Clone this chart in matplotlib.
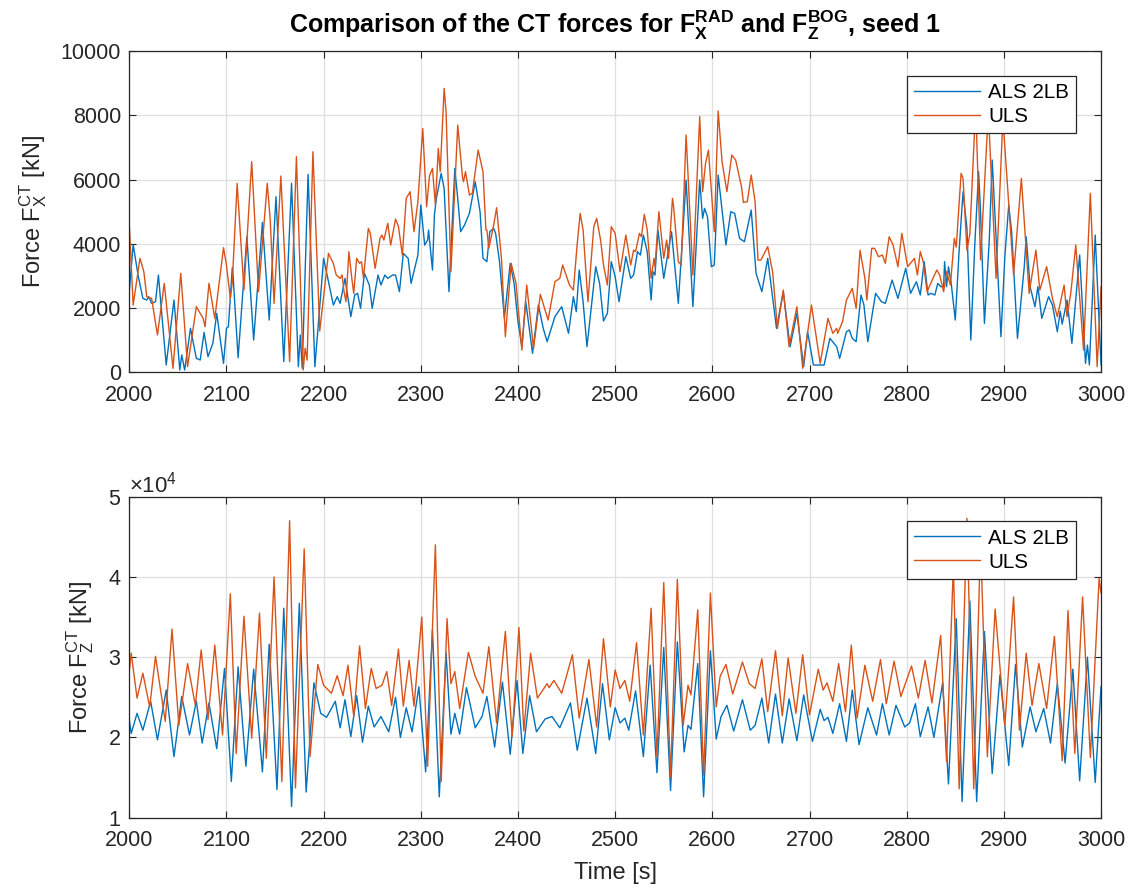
import numpy as np
import matplotlib
matplotlib.use("Agg")
import matplotlib.pyplot as plt
from matplotlib.ticker import ScalarFormatter

plt.rcParams["font.family"] = ["Liberation Sans", "DejaVu Sans"]
plt.rcParams["mathtext.fontset"] = "custom"
plt.rcParams["mathtext.rm"] = "Liberation Sans"
plt.rcParams["mathtext.it"] = "Liberation Sans"
plt.rcParams["mathtext.bf"] = "Liberation Sans:bold"

# ---- F_X^RAD, ALS 2LB [kN] ----
tx_als = [2000, 2004, 2009, 2014, 2018, 2020, 2023, 2027, 2030, 2038, 2046, 2052, 2054, 2057,
          2063, 2069, 2073, 2077, 2081, 2086, 2090, 2097, 2100, 2102, 2106, 2107, 2112, 2121,
          2128, 2137, 2144, 2151, 2159, 2167, 2174, 2176, 2178, 2184, 2191, 2200, 2210, 2214,
          2217, 2222, 2228, 2232, 2235, 2238, 2242, 2247, 2250, 2256, 2259, 2263, 2266, 2271,
          2274, 2278, 2282, 2287, 2290, 2297, 2300, 2304, 2307, 2308, 2312, 2314, 2316, 2321,
          2324, 2329, 2335, 2338, 2341, 2345, 2350, 2356, 2361, 2364, 2368, 2371, 2375, 2377,
          2381, 2386, 2392, 2396, 2400, 2404, 2408, 2415, 2421, 2426, 2430, 2438, 2445, 2452,
          2457, 2460, 2463, 2467, 2471, 2476, 2480, 2484, 2488, 2492, 2496, 2500, 2504, 2511,
          2516, 2519, 2523, 2526, 2529, 2533, 2537, 2539, 2541, 2544, 2550, 2558, 2565, 2573,
          2580, 2587, 2590, 2592, 2595, 2599, 2602, 2606, 2614, 2619, 2623, 2628, 2633, 2640,
          2645, 2651, 2657, 2666, 2673, 2680, 2687, 2694, 2698, 2704, 2715, 2721, 2728, 2731,
          2738, 2741, 2744, 2748, 2753, 2756, 2760, 2768, 2774, 2778, 2785, 2791, 2799, 2804,
          2810, 2814, 2818, 2822, 2825, 2829, 2832, 2835, 2838, 2839, 2841, 2843, 2846, 2850,
          2854, 2858, 2862, 2866, 2870, 2874, 2876, 2880, 2885, 2888, 2891, 2897, 2901, 2905,
          2908, 2914, 2921, 2923, 2927, 2932, 2935, 2939, 2946, 2950, 2955, 2958, 2960, 2965,
          2970, 2978, 2984, 2986, 2988, 2994, 3000]
fx_als = [2510, 3982, 3028, 2302, 2250, 2354, 2147, 2198, 3028, 228, 2250, 73, 540, 73,
          1369, 436, 384, 1244, 487, 902, 1835, 280, 1369, 1420, 3256, 2924, 456, 4220,
          1006, 4666, 1628, 5465, 332, 5880, 176, 1161, 124, 6160, 176, 3546, 2095, 2354,
          2147, 2924, 1732, 2406, 2458, 1991, 3080, 2717, 1991, 3028, 2717, 3028, 2924, 3028,
          3028, 2510, 3702, 3547, 2769, 3650, 5206, 3961, 4117, 4428, 3184, 4895, 5413, 6191,
          5724, 2510, 6346, 5413, 4376, 4583, 4947, 5932, 4998, 3547, 3443, 4376, 4480, 4324,
          3443, 1680, 3391, 2769, 1576, 798, 2198, 591, 2095, 1369, 954, 1732, 2043, 1213,
          2354, 1887, 3184, 2198, 798, 2198, 3287, 2769, 1597, 1835, 3443, 2976, 2198, 3599,
          2924, 3028, 3754, 3650, 4272, 3754, 2250, 3132, 3028, 4428, 2924, 4376, 2147, 5983,
          2043, 5983, 4791, 5102, 4843, 3287, 3339, 6139, 3961, 4998, 4947, 4168, 4065, 5050,
          3080, 2510, 3547, 1369, 2510, 798, 1835, 176, 1265, 228, 228, 1058, 798, 436,
          1265, 1317, 1058, 954, 2406, 2095, 954, 2458, 2198, 2147, 2872, 2302, 3236, 2458,
          2820, 2406, 3443, 2406, 2458, 2406, 2769, 2665, 2665, 3443, 2665, 3287, 2717, 1628,
          3806, 5620, 4480, 1006, 3910, 6243, 5000, 1524, 4117, 6606, 4800, 1110, 3598, 5206,
          4376, 1058, 3287, 4220, 2665, 2043, 2665, 1680, 2354, 2095, 1265, 1900, 1500, 2250,
          902, 3650, 280, 850, 228, 4272, 228]

# ---- F_X^RAD, ULS [kN] ----
tx_uls = [2000, 2004, 2011, 2015, 2018, 2023, 2029, 2036, 2045, 2053, 2060, 2069, 2076, 2078,
          2082, 2088, 2097, 2100, 2104, 2106, 2111, 2118, 2126, 2133, 2142, 2145, 2149, 2156,
          2165, 2172, 2179, 2181, 2183, 2189, 2196, 2205, 2210, 2213, 2217, 2219, 2221, 2223,
          2226, 2229, 2231, 2234, 2237, 2239, 2241, 2246, 2248, 2253, 2258, 2260, 2262, 2266,
          2269, 2274, 2277, 2281, 2285, 2289, 2293, 2297, 2302, 2306, 2309, 2312, 2315, 2318,
          2320, 2324, 2326, 2331, 2338, 2343, 2344, 2346, 2350, 2353, 2359, 2364, 2367, 2368,
          2370, 2375, 2378, 2383, 2387, 2393, 2398, 2404, 2409, 2416, 2423, 2431, 2438, 2443,
          2446, 2453, 2457, 2461, 2464, 2467, 2472, 2478, 2481, 2485, 2488, 2492, 2496, 2500,
          2505, 2511, 2516, 2519, 2521, 2525, 2527, 2530, 2533, 2537, 2540, 2541, 2545, 2550,
          2553, 2555, 2559, 2560, 2565, 2568, 2573, 2580, 2587, 2590, 2593, 2596, 2602, 2606,
          2610, 2615, 2620, 2624, 2630, 2632, 2636, 2640, 2644, 2647, 2650, 2657, 2662, 2667,
          2673, 2679, 2687, 2693, 2702, 2711, 2719, 2724, 2728, 2729, 2734, 2738, 2744, 2748,
          2752, 2757, 2759, 2764, 2767, 2771, 2775, 2778, 2782, 2786, 2791, 2795, 2801, 2808,
          2811, 2814, 2817, 2821, 2827, 2831, 2834, 2838, 2841, 2845, 2849, 2851, 2856, 2858,
          2862, 2865, 2871, 2876, 2884, 2892, 2899, 2910, 2918, 2926, 2933, 2937, 2944, 2950,
          2955, 2962, 2965, 2969, 2974, 2982, 2989, 2996, 3000]
fx_uls = [4615, 2095, 3547, 3132, 2354, 2300, 1161, 2769, 124, 3080, 176, 2043, 1680, 1420,
          2769, 1680, 3878, 3340, 2302, 2800, 5880, 2561, 6554, 2510, 5880, 4770, 2147, 6108,
          332, 6710, 73, 750, 380, 6865, 1286, 3702, 3391, 3028, 2924, 3028, 2510, 2198,
          3754, 2924, 2458, 3547, 3391, 3443, 2924, 4480, 4324, 3236, 4169, 4272, 4117, 4635,
          3961, 4770, 4532, 3650, 5413, 5620, 4376, 5309, 7590, 5154, 6120, 6346, 5206, 6968,
          6243, 8835, 8109, 3132, 7694, 6035, 5932, 6243, 5517, 5569, 6917, 6243, 4428, 4428,
          3858, 4583, 5123, 3547, 1110, 3391, 2769, 695, 2717, 747, 2427, 1628, 2820, 2924,
          3339, 2717, 2561, 4013, 4947, 4428, 2198, 4532, 4791, 4117, 3339, 2717, 4532, 4324,
          3132, 4272, 3339, 3806, 3754, 4324, 4220, 4915, 4428, 2924, 3547, 3287, 4998, 3547,
          4117, 3547, 5413, 5206, 3443, 3339, 7384, 3028, 7954, 5621, 6502, 6917, 4376, 8130,
          6554, 5621, 6761, 6606, 5776, 5289, 5309, 6139, 5309, 3495, 3495, 3910, 3132, 1369,
          2561, 798, 2043, 124, 2095, 280, 1680, 1213, 1369, 1213, 1576, 2250, 2613, 1991,
          3800, 2924, 2250, 3858, 3858, 3598, 3650, 3391, 4220, 3961, 3287, 4324, 3287, 3547,
          3028, 3754, 3443, 2510, 2924, 3184, 3028, 2510, 3132, 2717, 4169, 3900, 6191, 6035,
          3800, 4300, 8300, 3500, 8100, 2924, 7900, 3028, 6035, 2458, 3806, 2561, 3287, 2300,
          1731, 2717, 1731, 2500, 3960, 695, 5569, 176, 2665]

# ---- F_Z^BOG, ALS 2LB [kN] ----
tz_als = [2000, 2002, 2008, 2014, 2022, 2029, 2038, 2046, 2054, 2062, 2069, 2075, 2082, 2090,
          2098, 2105, 2112, 2120, 2128, 2137, 2144, 2152, 2159, 2167, 2175, 2182, 2190, 2197,
          2203, 2212, 2217, 2222, 2228, 2234, 2240, 2246, 2252, 2259, 2267, 2274, 2279, 2285,
          2291, 2298, 2305, 2312, 2319, 2326, 2331, 2335, 2340, 2347, 2356, 2363, 2368, 2376,
          2384, 2392, 2399, 2405, 2412, 2419, 2428, 2435, 2443, 2454, 2461, 2471, 2480, 2487,
          2494, 2500, 2505, 2510, 2514, 2521, 2529, 2536, 2543, 2550, 2557, 2564, 2571, 2575,
          2578, 2585, 2591, 2598, 2604, 2609, 2615, 2622, 2631, 2639, 2644, 2651, 2658, 2665,
          2672, 2679, 2687, 2694, 2703, 2711, 2715, 2719, 2724, 2731, 2738, 2744, 2751, 2760,
          2769, 2775, 2782, 2789, 2798, 2803, 2809, 2814, 2822, 2828, 2837, 2843, 2851, 2857,
          2865, 2872, 2880, 2888, 2896, 2905, 2912, 2919, 2927, 2933, 2941, 2948, 2955, 2963,
          2971, 2978, 2986, 2994, 3000]
fz_als = [22200, 20500, 23000, 20900, 24500, 19700, 25900, 17600, 25100, 20300, 24500, 19300,
          24300, 18600, 28600, 14500, 28800, 16400, 28500, 15700, 31600, 13500, 36100, 11400,
          36700, 13200, 26800, 23000, 22500, 24500, 21200, 24700, 20100, 25200, 19400, 23900,
          21300, 22600, 20700, 25000, 20000, 23700, 20700, 26300, 15700, 33400, 12600, 30500,
          20400, 23000, 20400, 26200, 21200, 22600, 25100, 18800, 26900, 17900, 27100, 18000,
          25200, 20700, 22300, 22600, 21200, 24300, 18400, 24900, 18000, 26700, 19700, 23700,
          21800, 22400, 20900, 25800, 17600, 29000, 15600, 31200, 13400, 31900, 18200, 21500,
          21000, 29200, 12600, 30800, 19800, 22600, 24000, 20800, 24700, 20900, 21500, 24900,
          19300, 25400, 19300, 24800, 19600, 25300, 19500, 23500, 22100, 22500, 20500, 24200,
          19500, 25900, 19100, 23700, 20300, 24200, 20300, 24000, 21300, 21800, 24200, 20100,
          23800, 20000, 26800, 14200, 34800, 12000, 37000, 12000, 33200, 15500, 27800, 16500,
          29100, 18800, 23800, 20700, 23600, 19300, 26700, 16800, 28500, 14600, 30000, 14400,
          26300]

# ---- F_Z^BOG, ULS [kN] ----
tz_uls = [2000, 2002, 2008, 2014, 2021, 2027, 2037, 2044, 2051, 2060, 2068, 2074, 2081, 2088,
          2096, 2104, 2110, 2118, 2126, 2134, 2141, 2149, 2157, 2165, 2171, 2180, 2186, 2194,
          2200, 2208, 2214, 2220, 2225, 2231, 2237, 2243, 2249, 2254, 2260, 2265, 2270, 2277,
          2282, 2288, 2293, 2301, 2307, 2315, 2321, 2327, 2331, 2335, 2340, 2349, 2356, 2364,
          2370, 2378, 2387, 2394, 2401, 2406, 2413, 2420, 2430, 2432, 2437, 2445, 2456, 2463,
          2473, 2481, 2488, 2495, 2500, 2505, 2510, 2515, 2522, 2529, 2537, 2543, 2550, 2557,
          2564, 2570, 2575, 2578, 2585, 2591, 2598, 2604, 2608, 2614, 2621, 2631, 2638, 2644,
          2651, 2657, 2665, 2672, 2678, 2686, 2693, 2700, 2709, 2714, 2718, 2724, 2730, 2737,
          2743, 2749, 2757, 2765, 2773, 2779, 2787, 2794, 2805, 2812, 2819, 2826, 2835, 2841,
          2848, 2854, 2862, 2869, 2876, 2883, 2891, 2901, 2910, 2916, 2923, 2929, 2936, 2944,
          2952, 2960, 2966, 2973, 2981, 2989, 2998, 3000]
fz_uls = [28200, 30500, 24900, 28000, 23800, 30100, 22000, 33500, 21500, 29200, 24000, 30900,
          22200, 31500, 20300, 37900, 18000, 35100, 19900, 35500, 17400, 40000, 14500, 47000,
          13700, 43500, 17600, 29100, 26500, 25500, 27700, 25200, 29000, 22600, 31400, 23600,
          28600, 26100, 26500, 28200, 24000, 31000, 23900, 29600, 23900, 35000, 16400, 44000,
          14500, 34800, 26700, 28200, 23600, 30600, 27600, 25500, 31300, 21800, 33200, 20100,
          33700, 20800, 30500, 24900, 26700, 26200, 27100, 25500, 30300, 22400, 29700, 21300,
          32300, 23800, 28400, 26100, 27100, 24500, 31800, 20300, 36100, 17600, 39300, 15100,
          39700, 21500, 26500, 25300, 35900, 15300, 38000, 23800, 27600, 29100, 25400, 29400,
          26700, 26100, 29800, 23200, 30800, 22700, 29900, 23000, 30300, 22800, 28500, 25900,
          26800, 24500, 29200, 23200, 31500, 22400, 29000, 24500, 29700, 24200, 29500, 25100,
          28900, 24900, 29600, 24300, 32700, 17000, 41300, 13600, 47300, 13600, 44500, 17600,
          36000, 21500, 37500, 20900, 30500, 24000, 29200, 23600, 32600, 17100, 35800, 18000,
          37500, 17500, 39800, 38000]

als_label = "ALS 2LB"
uls_label = "ULS"
c_als = "#0072BD"
c_uls = "#D95319"
axc = "#262626"

fig = plt.figure(figsize=(11.28, 8.88), dpi=100)
ax1 = fig.add_axes([0.1146, 0.5807, 0.8615, 0.3619])
ax2 = fig.add_axes([0.1146, 0.0792, 0.8615, 0.3615])


def style(ax):
    ax.set_xlim(2000, 3000)
    ax.set_xticks(np.arange(2000, 3001, 100))
    ax.grid(True, color="#dfdfdf", linewidth=0.9)
    ax.set_axisbelow(True)
    ax.tick_params(direction="in", length=5, width=0.8, colors=axc, labelsize=15.5,
                   top=True, right=True)
    ax.tick_params(axis="x", pad=9)
    ax.tick_params(axis="y", pad=6)
    for s in ax.spines.values():
        s.set_color(axc)
        s.set_linewidth(0.9)


ax1.plot(tx_als, fx_als, color=c_als, lw=1.0, label=als_label)
ax1.plot(tx_uls, fx_uls, color=c_uls, lw=1.0, label=uls_label)
style(ax1)
ax1.set_ylim(0, 10000)
ax1.set_yticks(np.arange(0, 10001, 2000))
ax1.set_ylabel(r"Force F$_X^{CT}$ [kN]", fontsize=17, color=axc, labelpad=8)
ax1.set_title(r"Comparison of the CT forces for $\mathbf{F_X^{RAD}}$ and $\mathbf{F_Z^{BOG}}$, seed 1",
              fontsize=18, fontweight="bold", color="black", pad=13)

ax2.plot(tz_als, fz_als, color=c_als, lw=1.0, label=als_label)
ax2.plot(tz_uls, fz_uls, color=c_uls, lw=1.0, label=uls_label)
style(ax2)
ax2.set_ylim(10000, 50000)
ax2.set_yticks(np.arange(10000, 50001, 10000))
fmt = ScalarFormatter(useMathText=True)
fmt.set_powerlimits((0, 0))
ax2.yaxis.set_major_formatter(fmt)
ax2.yaxis.get_offset_text().set_fontsize(16)
ax2.yaxis.get_offset_text().set_color(axc)
ax2.set_ylabel(r"Force F$_Z^{CT}$ [kN]", fontsize=17, color=axc, labelpad=8)
ax2.set_xlabel("Time [s]", fontsize=17, color=axc, labelpad=8)

for ax in (ax1, ax2):
    leg = ax.legend(loc="upper right", fontsize=14.8, handlelength=3.2, handletextpad=0.4,
                    borderaxespad=1.2, fancybox=False, framealpha=1, edgecolor=axc,
                    borderpad=0.35, labelspacing=0.25)
    leg.get_frame().set_linewidth(0.9)
    for t in leg.get_texts():
        t.set_color("black")

fig.savefig("out.png", dpi=100)
